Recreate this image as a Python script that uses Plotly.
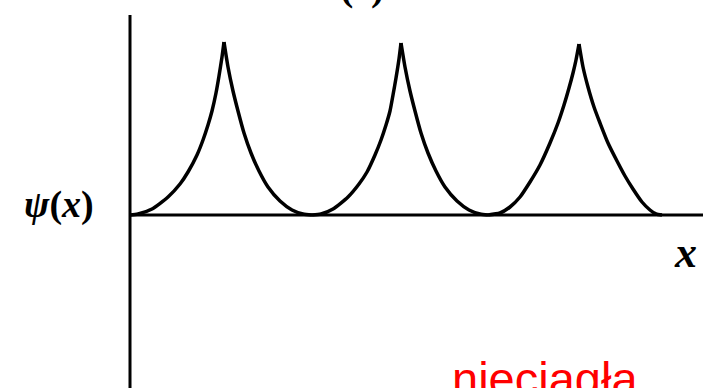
import plotly.graph_objects as go

# Wave function psi(x) (x in px-like units, psi = height above axis)
hump1_left_x = [130, 138, 152, 168, 180, 188, 197, 203, 208, 212, 216, 219, 222, 224]
hump1_left_y = [0, 1, 6, 18, 31, 43, 60, 75, 90, 104, 122, 139, 158, 173]
hump1_right_x = [224, 228, 233, 238, 244, 251, 259, 268, 280, 292, 303, 312]
hump1_right_y = [173, 148, 124, 104, 82, 62, 44, 28, 14, 5, 1, 0]

hump2_left_x = [312, 321, 333, 348, 359, 367, 375, 381, 386, 390, 393, 396, 399, 401]
hump2_left_y = [0, 1, 6, 18, 31, 43, 60, 75, 90, 104, 120, 137, 156, 172]
hump2_right_x = [401, 405, 410, 415, 421, 428, 436, 445, 457, 469, 480, 488]
hump2_right_y = [172, 148, 124, 104, 82, 62, 44, 28, 14, 5, 1, 0]

hump3_left_x = [488, 500, 510, 520, 530, 540, 550, 558, 564, 569, 573, 576, 579]
hump3_left_y = [0, 2, 8, 18, 33, 50, 72, 92, 110, 127, 142, 155, 171]
hump3_right_x = [579, 583, 588, 594, 600, 608, 617, 625, 633, 642, 650, 656, 662]
hump3_right_y = [171, 148, 128, 108, 92, 72, 54, 39, 26, 13, 5, 1, 0]

segments = [
    (hump1_left_x, hump1_left_y), (hump1_right_x, hump1_right_y),
    (hump2_left_x, hump2_left_y), (hump2_right_x, hump2_right_y),
    (hump3_left_x, hump3_left_y), (hump3_right_x, hump3_right_y),
]

fig = go.Figure()
for sx, sy in segments:
    fig.add_trace(go.Scatter(
        x=sx, y=sy, mode="lines",
        line=dict(color="black", width=3.5, shape="spline", smoothing=0.6),
        hoverinfo="skip", showlegend=False,
    ))

# axes drawn as lines
fig.add_shape(type="line", x0=130, x1=130, y0=-180, y1=200,
              line=dict(color="black", width=3))
fig.add_shape(type="line", x0=130, x1=703, y0=0, y1=0,
              line=dict(color="black", width=3))

serif = "Liberation Serif"
fig.add_annotation(xref="paper", yref="paper", x=59 / 706, y=0.474,
                   text="<b><i>ψ</i>(<i>x</i>)</b>", showarrow=False,
                   font=dict(family=serif, size=38, color="black"),
                   xanchor="center", yanchor="middle")
fig.add_annotation(xref="paper", yref="paper", x=685 / 706, y=0.349,
                   text="<b><i>x</i></b>", showarrow=False,
                   font=dict(family=serif, size=44, color="black"),
                   xanchor="center", yanchor="middle")
fig.add_annotation(xref="paper", yref="paper", x=362 / 706, y=1.035,
                   text="<b>(c)</b>", showarrow=False,
                   font=dict(family=serif, size=40, color="black"),
                   xanchor="center", yanchor="middle")
fig.add_annotation(xref="paper", yref="paper", x=545 / 706, y=0.024,
                   text="nieciągła", showarrow=False,
                   font=dict(family="Liberation Sans", size=47, color="#ff0000"),
                   xanchor="center", yanchor="middle")

fig.update_layout(
    width=706, height=388,
    margin=dict(l=0, r=0, t=0, b=0),
    paper_bgcolor="white", plot_bgcolor="white",
    xaxis=dict(range=[0, 706], visible=False, fixedrange=True),
    yaxis=dict(range=[-173, 215], visible=False, fixedrange=True),
    showlegend=False,
)

fig.write_html("out.html", config={"displayModeBar": False},
               post_script="document.body.style.margin='0';")
